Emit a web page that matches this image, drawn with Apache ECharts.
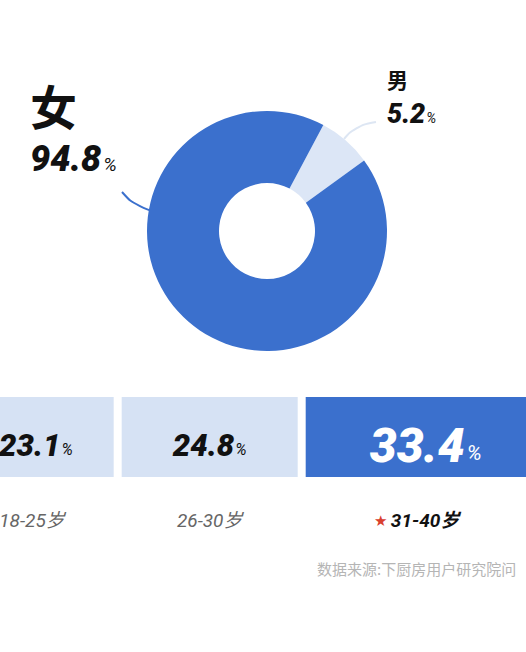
<!DOCTYPE html>
<html><head><meta charset="utf-8">
<script src="https://cdn.jsdelivr.net/npm/echarts@6/dist/echarts.min.js"></script>
<style>html,body{margin:0;padding:0;background:#fff}#c{width:526px;height:652px}</style>
</head><body><div id="c"></div>
<script>
const genderNames = ['男', '女'];
const genderValues = [5.2, 94.8];
const ageNames = ['18-25岁', '26-30岁', '31-40岁'];
const ageValues = [23.1, 24.8, 33.4];
const highlightAge = '31-40岁';
const sourceText = '数据来源:下厨房用户研究院问';

const BLUE = '#3b70cd', LIGHT = '#d6e2f4', SLICE_LIGHT = '#dce6f6';
const NUM = 'Roboto, "Noto Sans CJK SC", sans-serif';
const CJK = '"Noto Sans CJK SC", sans-serif';

const chart = echarts.init(document.getElementById('c'), null, {renderer: 'svg'});

const pieStyle = {
  '女': {x: 30, y: 79, line: [[122, 192], [138, 210], [172, 213]], color: BLUE, lineColor: BLUE},
  '男': {x: 387, y: 67, line: [[344, 139], [355, 126], [376, 122]], color: SLICE_LIGHT, lineColor: '#dde6f3'}
};

const pieData = genderNames.map((n, i) => ({
  name: n,
  value: genderValues[i],
  itemStyle: {color: pieStyle[n].color},
  labelLine: {lineStyle: {color: pieStyle[n].lineColor, width: 2}},
  label: {
    formatter: n === '女'
      ? '{bn|' + n + '}\n{bv|' + genderValues[i].toFixed(1) + '}{bp|%}'
      : '{sn|' + n + '}\n{sv|' + genderValues[i].toFixed(1) + '}{sp|%}'
  }
}));

const valRich = {
  v: {fontSize: 31, fontWeight: 900, fontStyle: 'italic', fontFamily: NUM, color: '#111'},
  p: {fontSize: 16, fontStyle: 'italic', fontFamily: NUM, color: '#111', padding: [9, 0, 0, 1]},
  V: {fontSize: 48, fontWeight: 900, fontStyle: 'italic', fontFamily: NUM, color: '#fff'},
  P: {fontSize: 21, fontStyle: 'italic', fontFamily: NUM, color: '#fff', padding: [16, 0, 0, 2]}
};
const nameRich = {
  n: {fontSize: 19, fontStyle: 'italic', fontFamily: NUM, color: '#666'},
  s: {fontSize: 15, color: '#d9402f', padding: [0, 4, 0, 0]},
  h: {fontSize: 19, fontStyle: 'italic', fontWeight: 'bold', fontFamily: NUM, color: '#111'},
  e: {width: 18}
};

const barSeries = ageNames.map((n, i) => ({
  type: 'bar', name: n, stack: 'age', xAxisIndex: 0, yAxisIndex: 0,
  barWidth: '100%', clip: false, silent: true,
  data: [ageValues[i]],
  itemStyle: {color: n === highlightAge ? BLUE : LIGHT, borderColor: '#fff', borderWidth: 4},
  label: {
    show: true, position: 'inside', offset: [i === 0 ? 4 : 0, 8],
    formatter: p => n === highlightAge
      ? '{V|' + p.value.toFixed(1) + '}{P|%}'
      : '{v|' + p.value.toFixed(1) + '}{p|%}',
    rich: valRich
  }
}));

const nameSeries = ageNames.map((n, i) => ({
  type: 'bar', name: n + ' ', stack: 'names', xAxisIndex: 1, yAxisIndex: 1,
  barWidth: '100%', clip: false, silent: true,
  data: [ageValues[i]],
  itemStyle: {color: 'rgba(0,0,0,0)'},
  label: {
    show: true, position: 'inside',
    formatter: () => n === highlightAge ? '{s|★}{h|' + n + '}{e|}' : '{n|' + n + '}',
    rich: nameRich
  }
}));

chart.setOption({
  animation: false,
  backgroundColor: '#fff',
  title: {
    text: sourceText, left: 317, top: 561, padding: 0,
    textStyle: {fontSize: 15, fontWeight: 'normal', color: '#b5b5b5', fontFamily: CJK}
  },
  grid: [
    {left: 0, right: 0, top: 393, height: 88},
    {left: 0, right: 0, top: 500, height: 40}
  ],
  xAxis: [
    {type: 'value', min: 7.24, max: 78.13, show: false, gridIndex: 0},
    {type: 'value', min: 7.24, max: 78.13, show: false, gridIndex: 1}
  ],
  yAxis: [
    {type: 'category', data: ['age'], show: false, gridIndex: 0},
    {type: 'category', data: ['age'], show: false, gridIndex: 1}
  ],
  series: [
    {
      type: 'pie', center: [267, 231], radius: [48, 120],
      startAngle: 62, minAngle: 26, clockwise: true,
      avoidLabelOverlap: false, silent: true,
      label: {
        show: true, position: 'outside', alignTo: 'none',
        rich: {
          bn: {fontSize: 47, lineHeight: 50, fontWeight: 'bold', fontFamily: CJK, color: '#111'},
          bv: {fontSize: 36, lineHeight: 60, fontWeight: 900, fontStyle: 'italic', fontFamily: NUM, color: '#111'},
          bp: {fontSize: 19, fontStyle: 'italic', fontFamily: NUM, color: '#111', padding: [11, 0, 0, 2]},
          sn: {fontSize: 21, lineHeight: 24, fontWeight: 'bold', fontFamily: CJK, color: '#111'},
          sv: {fontSize: 27, lineHeight: 46, fontWeight: 900, fontStyle: 'italic', fontFamily: NUM, color: '#111'},
          sp: {fontSize: 14, fontStyle: 'italic', fontFamily: NUM, color: '#111', padding: [8, 0, 0, 1]}
        }
      },
      labelLine: {show: true, smooth: 0.5},
      labelLayout: params => {
        const st = pieStyle[genderNames[params.dataIndex]];
        return {x: st.x, y: st.y, align: 'left', verticalAlign: 'top', labelLinePoints: st.line};
      },
      data: pieData
    }
  ].concat(barSeries, nameSeries)
});
</script>
</body></html>
